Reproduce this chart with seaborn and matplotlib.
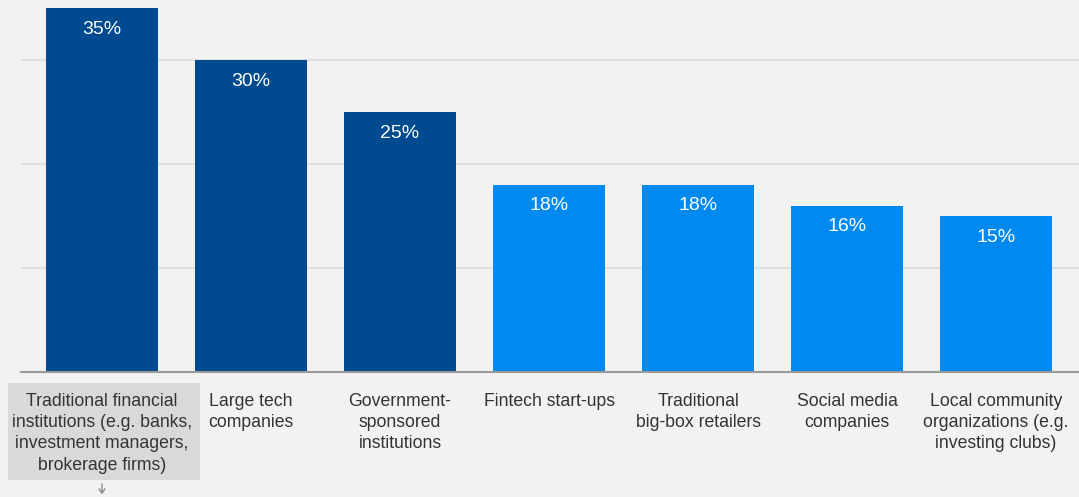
import matplotlib
matplotlib.use("Agg")
import matplotlib.pyplot as plt
import seaborn as sns
import pandas as pd
from matplotlib.patches import Rectangle, FancyArrowPatch

categories = [
    "Traditional financial\ninstitutions (e.g. banks,\ninvestment managers,\nbrokerage firms)",
    "Large tech\ncompanies",
    "Government-\nsponsored\ninstitutions",
    "Fintech start-ups",
    "Traditional\nbig-box retailers",
    "Social media\ncompanies",
    "Local community\norganizations (e.g.\ninvesting clubs)",
]
values = [35, 30, 25, 18, 18, 16, 15]
value_labels = ["35%", "30%", "25%", "18%", "18%", "16%", "15%"]
dark_blue = "#004a8f"
light_blue = "#0089ee"
bar_colors = [dark_blue] * 3 + [light_blue] * 4

df = pd.DataFrame({"category": categories, "value": values})

sns.set_theme(style="white")
plt.rcParams["font.family"] = ["Liberation Sans", "DejaVu Sans"]

W, H, DPI = 1079, 497, 100
fig = plt.figure(figsize=(W / DPI, H / DPI), dpi=DPI, facecolor="#f2f2f2")
ax = fig.add_axes([21 / W, 125 / H, (W - 21) / W, 372 / H])
ax.set_facecolor("#f2f2f2")

sns.barplot(data=df, x="category", y="value", hue="category",
            palette=bar_colors, legend=False, width=0.75, ax=ax,
            saturation=1, linewidth=0, zorder=3)

ax.set_ylim(0, 35.77)
ax.set_xlim(-0.544, 6.557)
ax.set_yticks([10, 20, 30])
ax.yaxis.grid(True, color="#dcdcdc", linewidth=1.2, zorder=0)
ax.set_axisbelow(True)
ax.tick_params(axis="y", left=False, labelleft=False)
ax.tick_params(axis="x", bottom=False, pad=9)
for s in ["top", "right", "left"]:
    ax.spines[s].set_visible(False)
ax.spines["bottom"].set_color("#9a9a9a")
ax.spines["bottom"].set_linewidth(1.5)
ax.spines["bottom"].set_zorder(4)
ax.set_xlabel("")
ax.set_ylabel("")

for lbl in ax.get_xticklabels():
    lbl.set_fontsize(12.7)
    lbl.set_color("#333333")
    lbl.set_linespacing(1.33)
    lbl.set_verticalalignment("top")
    lbl.set_horizontalalignment("center")

# Highlight box behind the first category label
fig.patches.append(Rectangle((8 / W, (H - 480) / H), 192 / W, 97 / H,
                             transform=fig.transFigure, facecolor="#d9d9d9",
                             edgecolor="none", zorder=-1))
# Small downward arrow below the highlighted label
fig.add_artist(FancyArrowPatch(
    (102 / W, (H - 481) / H), (102 / W, (H - 497) / H),
    transform=fig.transFigure, arrowstyle="->,head_length=0.25,head_width=0.18",
    mutation_scale=12, color="#8a8a8a", linewidth=1.0))

for i, (v, t) in enumerate(zip(values, value_labels)):
    ax.annotate(t, (i, v), xytext=(0, -21), textcoords="offset pixels",
                ha="center", va="center", color="white", fontsize=14, zorder=5)

fig.savefig("out.png", dpi=DPI, facecolor=fig.get_facecolor())
